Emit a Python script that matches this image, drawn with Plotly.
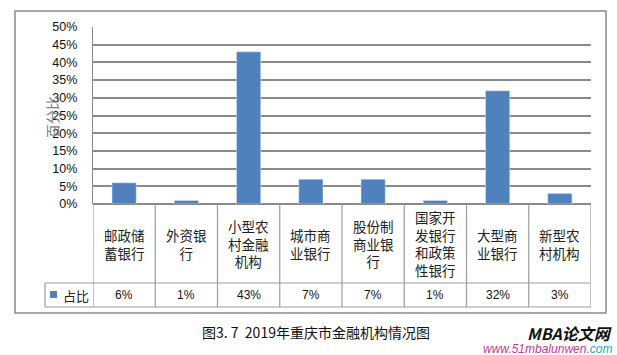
import plotly.graph_objects as go

categories = ["邮政储蓄银行", "外资银行", "小型农村金融机构", "城市商业银行",
              "股份制商业银行", "国家开发银行和政策性银行", "大型商业银行", "新型农村机构"]
shares = [0.06, 0.01, 0.43, 0.07, 0.07, 0.01, 0.32, 0.03]
series_name = "占比"
y_ticks = [0, 0.05, 0.10, 0.15, 0.20, 0.25, 0.30, 0.35, 0.40, 0.45, 0.50]
y_title = "百分比"
caption = "图3. 7  2019年重庆市金融机构情况图"

W, H = 617, 355
BAR = "#4F81BD"
GRID = "#898989"
TBL = "#9c9c9c"
FONT = "Liberation Sans, Arial, Noto Sans CJK SC, sans-serif"
CJK = "Noto Sans CJK SC, sans-serif"


def fx(p):
    return p / W


def fy(p):
    return 1 - p / H


fig = go.Figure()
fig.add_trace(go.Bar(x=categories, y=shares, marker_color=BAR, width=0.39,
                     name=series_name, showlegend=False, hoverinfo="skip"))

shapes = []
n = len(categories)
for i in range(n + 1):
    shapes.append(dict(type="line", xref="x", yref="paper", x0=i - 0.5, x1=i - 0.5,
                       y0=fy(204), y1=fy(307), line=dict(color=TBL, width=1.2)))
for yp in (283, 307):
    shapes.append(dict(type="line", xref="paper", yref="paper", x0=fx(45), x1=fx(591),
                       y0=fy(yp), y1=fy(yp), line=dict(color=TBL, width=1.2)))
shapes.append(dict(type="line", xref="paper", yref="paper", x0=fx(45), x1=fx(45),
                   y0=fy(283), y1=fy(307), line=dict(color=TBL, width=1.2)))
shapes.append(dict(type="rect", xref="paper", yref="paper", x0=fx(50), x1=fx(57),
                   y0=fy(298), y1=fy(291), fillcolor=BAR, line=dict(width=0)))
shapes.append(dict(type="rect", xref="paper", yref="paper", x0=fx(15), x1=fx(606),
                   y0=fy(313), y1=fy(11), line=dict(color="#8a8a8a", width=1.5)))

annotations = []
for i, (c, v) in enumerate(zip(categories, shares)):
    lines = [c[k:k + 3] for k in range(0, len(c), 3)]
    annotations.append(dict(x=c, xref="x", y=fy(243.5), yref="paper", text="<br>".join(lines),
                            showarrow=False, font=dict(family=CJK, size=13.5, color="#222"),
                            align="center", xanchor="center", yanchor="middle"))
    annotations.append(dict(x=c, xref="x", y=fy(295), yref="paper", text=f"{round(v * 100)}%",
                            showarrow=False, font=dict(family=FONT, size=12, color="#111"),
                            xanchor="center", yanchor="middle"))
annotations.append(dict(x=fx(61), xref="paper", y=fy(295), yref="paper", text=series_name,
                        showarrow=False, font=dict(family=CJK, size=13, color="#222"),
                        xanchor="left", yanchor="middle"))
annotations.append(dict(x=fx(52), xref="paper", y=fy(117), yref="paper", text=y_title,
                        textangle=-90, showarrow=False,
                        font=dict(family=CJK, size=14, color="#7f7f7f"),
                        xanchor="center", yanchor="middle"))
annotations.append(dict(x=fx(316), xref="paper", y=fy(332), yref="paper", text=caption,
                        showarrow=False, font=dict(family=CJK, size=14, color="#111"),
                        xanchor="center", yanchor="middle"))
annotations.append(dict(x=fx(614), xref="paper", y=fy(333), yref="paper",
                        text="<b><i>MBA论文网</i></b>", showarrow=False,
                        font=dict(family=CJK, size=16, color="#111"),
                        xanchor="right", yanchor="middle"))
annotations.append(dict(x=fx(614), xref="paper", y=fy(349), yref="paper",
                        text="<i>www.51mbalunwen.</i><i><span style='color:#2aa6b8'>com</span></i>",
                        showarrow=False, font=dict(family=FONT, size=12, color="#c8398f"),
                        xanchor="right", yanchor="middle"))

fig.update_layout(
    width=W, height=H, margin=dict(l=0, r=0, t=0, b=0),
    paper_bgcolor="white", plot_bgcolor="white",
    xaxis=dict(domain=[fx(93), fx(591)], type="category", range=[-0.5, n - 0.5],
               showticklabels=False, showgrid=False, showline=False, zeroline=False, ticks=""),
    yaxis=dict(domain=[fy(204), fy(27)], range=[0, 0.5], tickvals=y_ticks, tickformat=".0%",
               showgrid=True, gridcolor=GRID, gridwidth=1.5, zeroline=True, zerolinecolor=GRID,
               zerolinewidth=1.5, showline=True, linecolor=GRID, linewidth=1.2, ticks="",
               ticklabelstandoff=12, automargin=False,
               tickfont=dict(family=FONT, size=12.5, color="#111")),
    shapes=shapes, annotations=annotations,
)
fig.write_html("out.html", config={"displayModeBar": False},
               post_script="document.body.style.margin='0';document.body.style.overflow='hidden';")
